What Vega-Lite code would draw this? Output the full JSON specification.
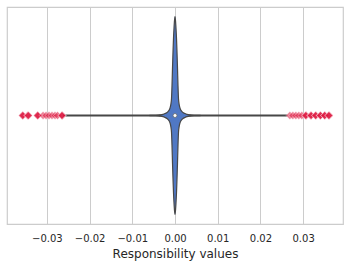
{
  "$schema": "https://vega.github.io/schema/vega-lite/v6.json",
  "width": 336,
  "height": 217,
  "padding": {"left": 7, "top": 7, "right": 6, "bottom": 44},
  "autosize": "none",
  "background": "white",
  "config": {
    "view": {"stroke": "#cccccc", "strokeWidth": 1.2},
    "font": "DejaVu Sans"
  },
  "datasets": {
    "violin": [
      {"v": -0.00585, "d": 0.0005, "nd": -0.0005},
      {"v": -0.00468, "d": 0.002, "nd": -0.002},
      {"v": -0.00351, "d": 0.006, "nd": -0.006},
      {"v": -0.00281, "d": 0.012, "nd": -0.012},
      {"v": -0.00234, "d": 0.02, "nd": -0.02},
      {"v": -0.00187, "d": 0.031, "nd": -0.031},
      {"v": -0.00164, "d": 0.04, "nd": -0.04},
      {"v": -0.00141, "d": 0.052, "nd": -0.052},
      {"v": -0.00117, "d": 0.075, "nd": -0.075},
      {"v": -0.00098, "d": 0.11, "nd": -0.11},
      {"v": -0.00082, "d": 0.17, "nd": -0.17},
      {"v": -0.000703, "d": 0.30, "nd": -0.30},
      {"v": -0.000585, "d": 0.48, "nd": -0.48},
      {"v": -0.000468, "d": 0.64, "nd": -0.64},
      {"v": -0.000351, "d": 0.78, "nd": -0.78},
      {"v": -0.000234, "d": 0.88, "nd": -0.88},
      {"v": -0.000117, "d": 0.96, "nd": -0.96},
      {"v": 0, "d": 1.0, "nd": -1.0},
      {"v": 0.000117, "d": 0.96, "nd": -0.96},
      {"v": 0.000234, "d": 0.88, "nd": -0.88},
      {"v": 0.000351, "d": 0.78, "nd": -0.78},
      {"v": 0.000468, "d": 0.64, "nd": -0.64},
      {"v": 0.000585, "d": 0.48, "nd": -0.48},
      {"v": 0.000703, "d": 0.30, "nd": -0.30},
      {"v": 0.00082, "d": 0.17, "nd": -0.17},
      {"v": 0.00098, "d": 0.11, "nd": -0.11},
      {"v": 0.00117, "d": 0.075, "nd": -0.075},
      {"v": 0.00141, "d": 0.052, "nd": -0.052},
      {"v": 0.00164, "d": 0.04, "nd": -0.04},
      {"v": 0.00187, "d": 0.031, "nd": -0.031},
      {"v": 0.00234, "d": 0.02, "nd": -0.02},
      {"v": 0.00281, "d": 0.012, "nd": -0.012},
      {"v": 0.00351, "d": 0.006, "nd": -0.006},
      {"v": 0.00468, "d": 0.002, "nd": -0.002},
      {"v": 0.00585, "d": 0.0005, "nd": -0.0005}
    ],
    "box": [
      {"lo": -0.0262, "hi": 0.0263, "median": 0, "y": 0}
    ],
    "outliers": [
      {"v": -0.0357, "y": 0}, {"v": -0.0357, "y": 0}, {"v": -0.0356, "y": 0},
      {"v": -0.0344, "y": 0}, {"v": -0.0345, "y": 0}, {"v": -0.0343, "y": 0},
      {"v": -0.0322, "y": 0}, {"v": -0.0322, "y": 0}, {"v": -0.0321, "y": 0},
      {"v": -0.0309, "y": 0},
      {"v": -0.0302, "y": 0},
      {"v": -0.0295, "y": 0},
      {"v": -0.0288, "y": 0},
      {"v": -0.0281, "y": 0},
      {"v": -0.0275, "y": 0},
      {"v": -0.0264, "y": 0}, {"v": -0.0264, "y": 0}, {"v": -0.0265, "y": 0},
      {"v": 0.0269, "y": 0},
      {"v": 0.0276, "y": 0},
      {"v": 0.0283, "y": 0},
      {"v": 0.0290, "y": 0},
      {"v": 0.0297, "y": 0},
      {"v": 0.0307, "y": 0}, {"v": 0.0307, "y": 0}, {"v": 0.0306, "y": 0},
      {"v": 0.0318, "y": 0}, {"v": 0.0318, "y": 0}, {"v": 0.0319, "y": 0},
      {"v": 0.0330, "y": 0}, {"v": 0.0330, "y": 0}, {"v": 0.0329, "y": 0},
      {"v": 0.0340, "y": 0}, {"v": 0.0340, "y": 0}, {"v": 0.0341, "y": 0},
      {"v": 0.0351, "y": 0}, {"v": 0.0351, "y": 0}, {"v": 0.0350, "y": 0},
      {"v": 0.0361, "y": 0}, {"v": 0.0361, "y": 0}, {"v": 0.0360, "y": 0}
    ]
  },
  "layer": [
    {
      "data": {"name": "box"},
      "mark": {"type": "rule", "color": "#474747", "strokeWidth": 1.8},
      "encoding": {
        "x": {
          "field": "lo", "type": "quantitative",
          "scale": {"domain": [-0.03934, 0.03934], "nice": false, "zero": false},
          "axis": {
            "values": [-0.03, -0.02, -0.01, 0, 0.01, 0.02, 0.03],
            "format": ".2f",
            "domain": false,
            "ticks": false,
            "grid": true,
            "gridColor": "#cccccc",
            "gridWidth": 1,
            "labelFontSize": 10,
            "labelColor": "#262626",
            "labelPadding": 9,
            "title": "Responsibility values",
            "titleFontSize": 12,
            "titleFontWeight": "normal",
            "titleColor": "#262626",
            "titlePadding": 5
          }
        },
        "x2": {"field": "hi"},
        "y": {
          "field": "y", "type": "quantitative",
          "scale": {"domain": [-1.096, 1.096], "nice": false},
          "axis": null
        }
      }
    },
    {
      "data": {"name": "violin"},
      "mark": {
        "type": "area",
        "orient": "vertical",
        "interpolate": "monotone",
        "color": "#5078c4",
        "fillOpacity": 1,
        "stroke": "#474747",
        "strokeWidth": 1.2
      },
      "encoding": {
        "x": {"field": "v", "type": "quantitative"},
        "y": {"field": "d", "type": "quantitative"},
        "y2": {"field": "nd"}
      }
    },
    {
      "data": {"name": "box"},
      "mark": {"type": "point", "shape": "circle", "filled": true, "fill": "white", "stroke": "#6a6a6a", "strokeWidth": 0.8, "size": 16, "opacity": 1},
      "encoding": {
        "x": {"field": "median", "type": "quantitative"},
        "y": {"field": "y", "type": "quantitative"}
      }
    },
    {
      "data": {"name": "outliers"},
      "mark": {"type": "point", "shape": "diamond", "filled": true, "fill": "#dc143c", "fillOpacity": 0.55, "stroke": "white", "strokeWidth": 0.6, "strokeOpacity": 0.6, "size": 62},
      "encoding": {
        "x": {"field": "v", "type": "quantitative"},
        "y": {"field": "y", "type": "quantitative"}
      }
    }
  ]
}
